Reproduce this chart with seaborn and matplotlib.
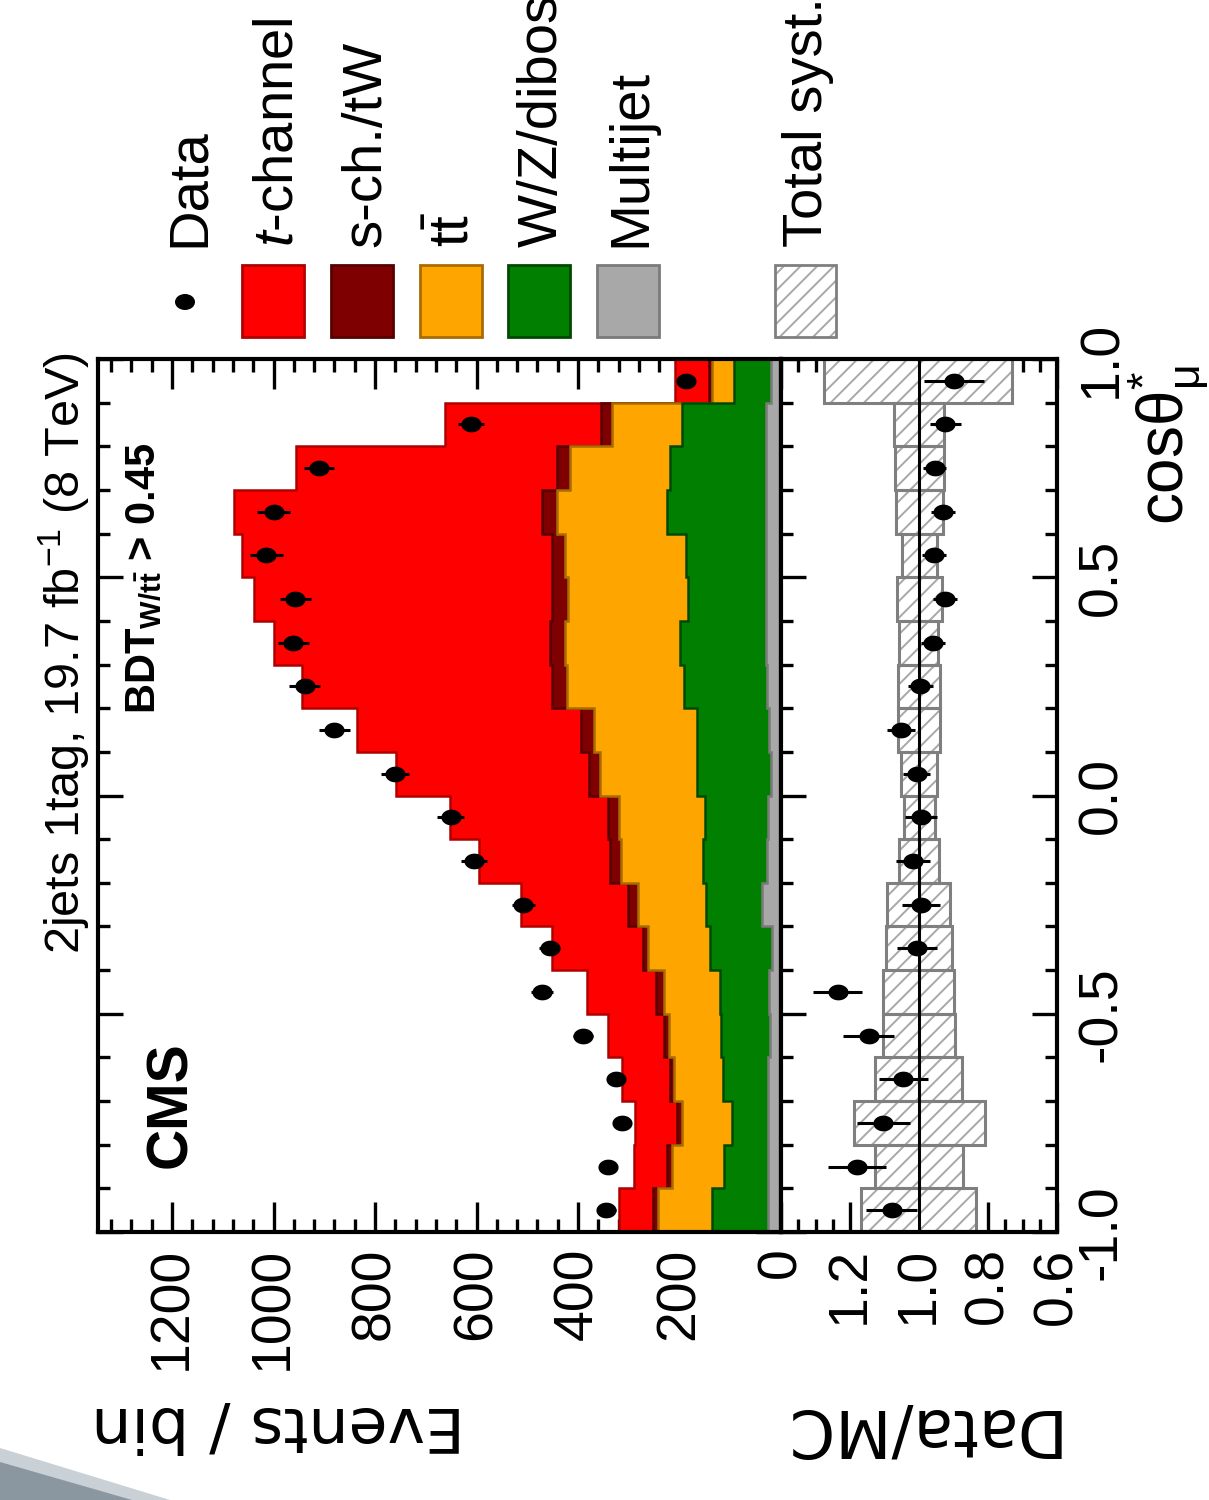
import numpy as np
import pandas as pd
import matplotlib
matplotlib.use("Agg")
import matplotlib.pyplot as plt
import seaborn as sns
from matplotlib.path import Path
from matplotlib.patches import Rectangle, Polygon, Ellipse
from matplotlib.ticker import MultipleLocator

# ---------------- data: 20 bins of cos(theta*_mu), from -1 to +1 ----------------
bin_edges = [-1.0, -0.9, -0.8, -0.7, -0.6, -0.5, -0.4, -0.3, -0.2, -0.1, 0.0,
             0.1, 0.2, 0.3, 0.4, 0.5, 0.6, 0.7, 0.8, 0.9, 1.0]
data_counts = [344, 341, 313, 325, 390, 471, 456, 508, 605, 651,
               761, 880, 939, 961, 957, 1014, 1000, 910, 611, 187]
data_err = [19, 18, 18, 18, 20, 22, 21, 23, 25, 26,
            28, 30, 31, 31, 31, 32, 32, 30, 25, 14]
tchannel = [66, 65, 82, 95, 110, 137, 180, 212, 259, 312,
            380, 442, 493, 543, 587, 611, 606, 513, 308, 67]
sch_tw = [10, 11, 9, 7, 11, 15, 9, 20, 22, 22,
          21, 26, 29, 31, 31, 26, 29, 26, 20, 6]
ttbar = [107, 101, 99, 97, 101, 111, 123, 133, 161, 170,
         191, 202, 230, 225, 237, 238, 218, 198, 138, 44]
wz_diboson = [110, 88, 72, 89, 97, 97, 121, 110, 127, 124,
              146, 142, 165, 171, 154, 158, 194, 189, 166, 72]
multijet = [26, 25, 25, 25, 22, 23, 18, 38, 27, 25,
            20, 24, 27, 29, 29, 29, 30, 29, 30, 20]
ratio_vals = [1.079, 1.180, 1.103, 1.045, 1.146, 1.236, 1.007, 0.994, 1.018, 0.994,
              1.007, 1.052, 0.996, 0.960, 0.924, 0.956, 0.930, 0.954, 0.924, 0.898]
ratio_err = [0.074, 0.083, 0.077, 0.071, 0.073, 0.071, 0.058, 0.055, 0.050, 0.046,
             0.040, 0.040, 0.036, 0.035, 0.035, 0.035, 0.035, 0.033, 0.045, 0.087]
syst_up = [1.168, 1.127, 1.187, 1.128, 1.105, 1.103, 1.097, 1.093, 1.059, 1.043,
           1.052, 1.060, 1.060, 1.059, 1.064, 1.050, 1.067, 1.070, 1.072, 1.274]
syst_down = [0.835, 0.872, 0.808, 0.875, 0.896, 0.898, 0.904, 0.910, 0.941, 0.954,
             0.949, 0.938, 0.938, 0.946, 0.934, 0.948, 0.930, 0.927, 0.928, 0.731]

events_ticks = [0, 200, 400, 600, 800, 1000, 1200]
ratio_ticks = [0.6, 0.8, 1.0, 1.2, 1.4]
ratio_ticklabels = ["0.6", "0.8", "1.0", "1.2", ""]
cos_ticks = [-1.0, -0.5, 0.0, 0.5, 1.0]
cos_ticklabels = ["-1.0", "-0.5", "0.0", "0.5", "1.0"]

process_names = ["Multijet", "W/Z/diboson", "tt", "s-ch./tW", "t-channel"]
legend_labels = ["Data", r"$t$-channel", "s-ch./tW", r"t$\bar{\mathrm{t}}$",
                 "W/Z/diboson", "Multijet", "Total syst."]
fill_colors = {"t-channel": "#ff0000", "s-ch./tW": "#7f0000", "tt": "#ffa500",
               "W/Z/diboson": "#007f00", "Multijet": "#a8a8a8"}
line_colors = {"t-channel": "#b00000", "s-ch./tW": "#560000", "tt": "#a86c00",
               "W/Z/diboson": "#004a00", "Multijet": "#7a7a7a"}

# ---------------- style ----------------
sns.set_theme(style="ticks")
FAM = ["Liberation Sans", "DejaVu Sans"]
plt.rcParams["font.family"] = FAM
plt.rcParams["mathtext.fontset"] = "custom"
plt.rcParams["mathtext.rm"] = "Liberation Sans"
plt.rcParams["mathtext.it"] = "Liberation Sans:italic"
plt.rcParams["mathtext.bf"] = "Liberation Sans:bold"
plt.rcParams["hatch.linewidth"] = 1.4
plt.rcParams["axes.edgecolor"] = "black"

W, H = 1209, 1500
fig = plt.figure(figsize=(W / 100, H / 100), dpi=100, facecolor="white")


def fx(p):
    return p / W


def fy(p):
    return 1 - p / H


X0, X1, XR, Y0, Y1 = 98, 781, 1057, 359, 1232
ax = fig.add_axes([fx(X0), fy(Y1), (X1 - X0) / W, (Y1 - Y0) / H])
axr = fig.add_axes([fx(X1), fy(Y1), (XR - X1) / W, (Y1 - Y0) / H])

edges = np.array(bin_edges)
centers = 0.5 * (edges[:-1] + edges[1:])
df = pd.DataFrame({"cos": centers, "data": data_counts, "err": data_err,
                   "t-channel": tchannel, "s-ch./tW": sch_tw, "tt": ttbar,
                   "W/Z/diboson": wz_diboson, "Multijet": multijet,
                   "ratio": ratio_vals, "rerr": ratio_err,
                   "up": syst_up, "down": syst_down})

# ellipse marker (points look slightly stretched)
tt_ = np.linspace(0, 2 * np.pi, 80)
ell = Path(np.column_stack([0.5 * np.cos(tt_), 0.5 / 1.28 * np.sin(tt_)]), closed=True)

# ---------------- main panel: stacked histogram (rotated) ----------------
tops = []
cum = np.zeros(len(centers))
for name in process_names:
    cum = cum + df[name].values
    tops.append((name, cum.copy()))
ys_step = np.repeat(edges, 2)[1:-1]
for name, top in reversed(tops):
    xs_step = np.repeat(top, 2)
    ax.fill_betweenx(ys_step, 0, xs_step, facecolor=fill_colors[name], edgecolor="none",
                     linewidth=0, zorder=2)
    ax.plot(xs_step, ys_step, color=line_colors[name], lw=1.8, zorder=2,
            solid_joinstyle="miter")

ax.errorbar(df["data"], df["cos"], xerr=df["err"], fmt="none", ecolor="black",
            elinewidth=2.2, capsize=0, zorder=5)
sns.scatterplot(data=df, x="data", y="cos", ax=ax, marker=ell, s=210, color="black",
                linewidth=0, zorder=6, legend=False)

ax.set_xlim(1346, 0)
ax.set_ylim(-1, 1)
ax.set_xlabel("")
ax.set_ylabel("")
ax.set_xticks(events_ticks)
ax.xaxis.set_minor_locator(MultipleLocator(40))
ax.yaxis.set_major_locator(MultipleLocator(0.5))
ax.yaxis.set_minor_locator(MultipleLocator(0.1))

# ---------------- ratio panel ----------------
axr.barh(df["cos"], df["up"] - df["down"], left=df["down"], height=0.1, color="white",
         edgecolor="#a8a8a8", hatch="//", linewidth=0, zorder=2)
axr.barh(df["cos"], df["up"] - df["down"], left=df["down"], height=0.1, fill=False,
         edgecolor="#7f7f7f", linewidth=2.2, zorder=3)
axr.axvline(1.0, color="black", lw=2.2, zorder=4)
axr.errorbar(df["ratio"], df["cos"], xerr=df["rerr"], fmt="none", ecolor="black",
             elinewidth=2.2, capsize=0, zorder=5)
sns.scatterplot(data=df, x="ratio", y="cos", ax=axr, marker=ell, s=210, color="black",
                linewidth=0, zorder=6, legend=False)
axr.set_xlim(1.4, 0.6)
axr.set_ylim(-1, 1)
axr.set_xlabel("")
axr.set_ylabel("")
axr.set_xticks(ratio_ticks, labels=ratio_ticklabels)
axr.xaxis.set_minor_locator(MultipleLocator(0.05))
axr.set_yticks(cos_ticks, labels=cos_ticklabels)
axr.yaxis.set_minor_locator(MultipleLocator(0.1))

TICK_FS = 40
for a in (ax, axr):
    for s in a.spines.values():
        s.set_linewidth(3.0)
        s.set_color("black")
        s.set_zorder(10)
    a.tick_params(which="both", direction="in", top=True, bottom=True, left=True,
                  right=True, width=2.4, color="black", zorder=10)
    a.tick_params(axis="x", which="major", length=21.5)
    a.tick_params(axis="x", which="minor", length=9.5)
    a.tick_params(axis="y", which="major", length=18)
    a.tick_params(axis="y", which="minor", length=8.5)
    a.tick_params(axis="x", labelsize=TICK_FS, pad=11, labelrotation=90,
                  labelcolor="black")
    a.set_facecolor("white")

ax.tick_params(axis="y", labelleft=False, labelright=False)
axr.tick_params(axis="y", labelleft=False, labelright=True, labelsize=TICK_FS, pad=14,
                labelrotation=90, labelcolor="black")
plt.setp(axr.get_yticklabels(), va="center", ha="left")

# ---------------- texts ----------------
fig.text(fx(80), fy(352), r"2jets 1tag, 19.7 fb$^{-1}$ (8 TeV)", rotation=90,
         rotation_mode="anchor", ha="right", va="baseline", fontsize=35, color="black")
fig.text(fx(186), fy(1168), "CMS", rotation=90, rotation_mode="anchor", ha="left",
         va="baseline", fontsize=41, fontweight="bold", color="black")
fig.text(fx(155), fy(714), r"BDT$_{\mathbf{W/t\bar{t}}}$ > 0.45", rotation=90,
         rotation_mode="anchor", ha="left", va="baseline", fontsize=30,
         fontweight="bold", color="black")
fig.text(fx(1183), fy(525), r"cos$\mathrm{\theta}^{*}_{\mathrm{\mu}}$", rotation=90,
         rotation_mode="anchor", ha="left", va="baseline", fontsize=46, color="black")
fig.text(fx(465), fy(1407), "Events / bin", rotation=180, rotation_mode="anchor",
         ha="left", va="baseline", fontsize=45.5, family=["DejaVu Sans"], color="black")
fig.text(fx(1056), fy(1409), "Data/MC", rotation=180, rotation_mode="anchor",
         ha="left", va="baseline", fontsize=47, family=["DejaVu Sans"], color="black")

# ---------------- rotated legend ----------------
base_x = [204 + 88.3 * i for i in (0, 1, 2, 3, 4, 5, 7)]
for lab, bx in zip(legend_labels, base_x):
    fig.text(fx(bx), fy(247), lab, rotation=90, rotation_mode="anchor", ha="left",
             va="baseline", fontsize=40.5, color="black")
fig.add_artist(Ellipse((fx(185), fy(302)), 20 / W, 16 / H, transform=fig.transFigure,
                       facecolor="black", edgecolor="none"))
box_names = ["t-channel", "s-ch./tW", "tt", "W/Z/diboson", "Multijet"]
for i, name in enumerate(box_names):
    cx = 273 + 88.8 * i
    fig.add_artist(Rectangle((fx(cx - 31), fy(337)), 62 / W, 72 / H,
                             transform=fig.transFigure, facecolor=fill_colors[name],
                             edgecolor=line_colors[name], linewidth=2.0))
fig.add_artist(Rectangle((fx(775), fy(337)), 61 / W, 72 / H, transform=fig.transFigure,
                         facecolor="white", edgecolor="#a8a8a8", hatch="//", linewidth=0))
fig.add_artist(Rectangle((fx(775), fy(337)), 61 / W, 72 / H, transform=fig.transFigure,
                         fill=False, edgecolor="#7f7f7f", linewidth=2.0))

# slide background corner
fig.add_artist(Polygon([(0, fy(1448)), (fx(170), 0), (0, 0)], closed=True,
                       transform=fig.transFigure, facecolor="#c9d0d6", edgecolor="none"))
fig.add_artist(Polygon([(0, fy(1462)), (fx(132), 0), (0, 0)], closed=True,
                       transform=fig.transFigure, facecolor="#8a96a0", edgecolor="none"))

fig.savefig("out.png", dpi=100, facecolor="white")
